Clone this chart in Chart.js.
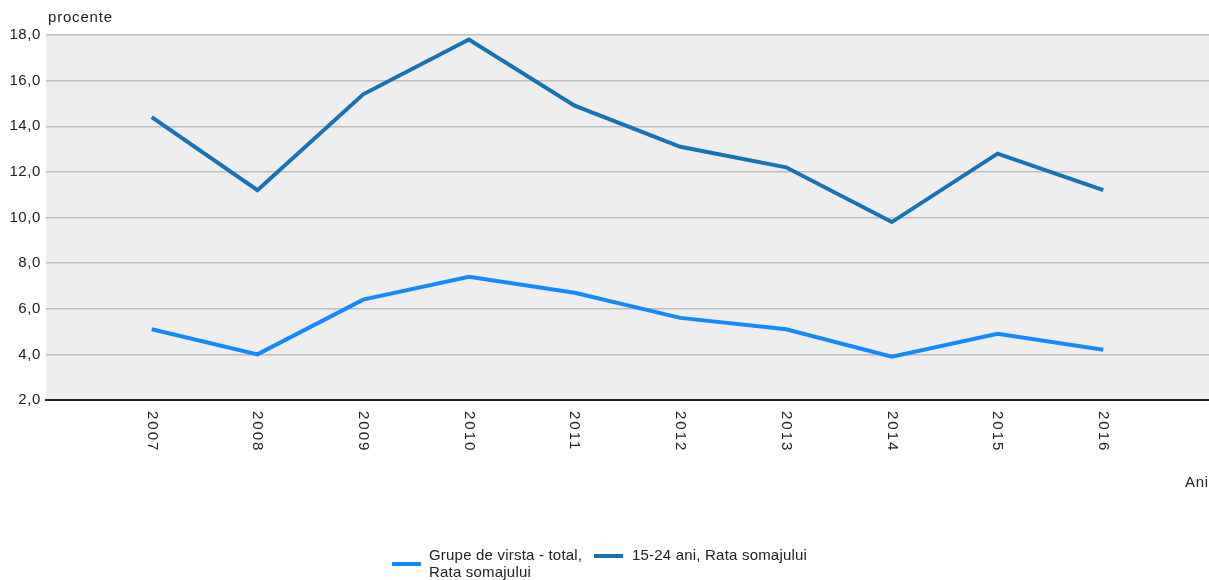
<!DOCTYPE html>
<html>
<head>
<meta charset="utf-8">
<script src="https://cdn.jsdelivr.net/npm/chart.js@4/dist/chart.umd.min.js"></script>
<style>
  html, body { margin: 0; padding: 0; background: #fff; }
  #wrap { position: relative; width: 1209px; height: 580px; font-family: "Liberation Sans", Arial, sans-serif; }
  #c { position: absolute; left: 0; top: 0; }
  .lbl { position: absolute; color: #222; font-size: 15px; letter-spacing: 0.8px; }
  #legend { position: absolute; top: 546px; left: 392px; font-size: 15px; letter-spacing: 0.2px; color: #222; line-height: 17px; }
  .item { position: absolute; white-space: nowrap; }
  .sw { position: absolute; height: 4px; width: 29px; }
</style>
</head>
<body>
<div id="wrap">
  <canvas id="c" width="1209" height="580"></canvas>
  <div class="lbl" style="left:48px; top:8px;">procente</div>
  <div class="lbl" style="right:0px; top:473px;">Ani</div>
  <div id="legend">
    <div class="item" style="left:0; top:0;">
      <div class="sw" style="left:0; top:16px; background:#1589ff;"></div>
      <div style="position:absolute; left:37px; top:0;">Grupe de virsta - total,<br>Rata somajului</div>
    </div>
    <div class="item" style="left:202px; top:0;">
      <div class="sw" style="left:0; top:8px; background:#1873b4;"></div>
      <div style="position:absolute; left:38px; top:0;">15-24 ani, Rata somajului</div>
    </div>
  </div>
</div>
<script>
const years = [2007, 2008, 2009, 2010, 2011, 2012, 2013, 2014, 2015, 2016];
const totalRate = [5.1, 4.0, 6.4, 7.4, 6.7, 5.6, 5.1, 3.9, 4.9, 4.2];
const youthRate = [14.4, 11.2, 15.4, 17.8, 14.9, 13.1, 12.2, 9.8, 12.8, 11.2];
const yTicks = [2, 4, 6, 8, 10, 12, 14, 16, 18];
const seriesNames = ["Grupe de virsta - total, Rata somajului", "15-24 ani, Rata somajului"];

const bgPlugin = {
  id: 'bg',
  beforeDraw(chart) {
    const { ctx, chartArea: a } = chart;
    ctx.save();
    ctx.fillStyle = '#eeeeee';
    ctx.fillRect(a.left, a.top, a.right - a.left, a.bottom - a.top);
    ctx.restore();
    ctx.letterSpacing = '0.6px';
  },
  afterDraw(chart) {
    const { ctx } = chart;
    const xs = chart.scales.x;
    ctx.save();
    ctx.font = '15px "Liberation Sans", Arial, sans-serif';
    ctx.letterSpacing = '2px';
    ctx.fillStyle = '#222';
    ctx.textAlign = 'left';
    ctx.textBaseline = 'middle';
    years.forEach(yr => {
      const px = xs.getPixelForValue(yr);
      ctx.save();
      ctx.translate(px, 411);
      ctx.rotate(Math.PI / 2);
      ctx.fillText(String(yr), 0, 0);
      ctx.restore();
    });
    ctx.restore();
  }
};

new Chart(document.getElementById('c'), {
  type: 'line',
  data: {
    datasets: [
      { label: seriesNames[0], data: years.map((y, i) => ({ x: y, y: totalRate[i] })), borderColor: '#1589ff', borderWidth: 4, pointRadius: 0, tension: 0 },
      { label: seriesNames[1], data: years.map((y, i) => ({ x: y, y: youthRate[i] })), borderColor: '#1873b4', borderWidth: 4, pointRadius: 0, tension: 0 }
    ]
  },
  options: {
    responsive: false,
    animation: false,
    layout: { padding: { top: 35, right: 0, left: 0, bottom: 0 } },
    plugins: { legend: { display: false }, tooltip: { enabled: false } },
    scales: {
      x: {
        type: 'linear',
        min: years[0] - 1,
        max: years[years.length - 1] + 1,
        ticks: { display: false },
        grid: { display: false },
        border: { display: true, color: '#222', width: 2 },
        afterFit(s) { s.height = 180; }
      },
      y: {
        min: yTicks[0],
        max: yTicks[yTicks.length - 1],
        afterBuildTicks(s) { s.ticks = yTicks.map(v => ({ value: v })); },
        ticks: {
          color: '#222',
          font: { size: 15, family: '"Liberation Sans", Arial, sans-serif' },
          padding: 5,
          callback: v => v.toFixed(1).replace('.', ',')
        },
        grid: { color: '#bdbdbd', lineWidth: 1.5, drawTicks: false },
        border: { display: false },
        afterFit(s) { s.width = 46; }
      }
    }
  },
  plugins: [bgPlugin]
});
</script>
</body>
</html>
